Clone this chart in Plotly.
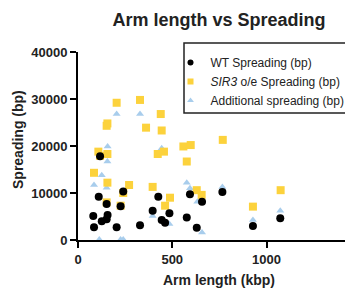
import plotly.graph_objects as go

# Data (arm length in kbp, spreading in bp)
wt_x = [117, 110, 152, 240, 226, 81, 157, 152, 126, 85, 205, 329, 426, 396, 444,
        462, 485, 577, 594, 630, 658, 766, 928, 1073]
wt_y = [17800, 9200, 7650, 10300, 7170, 5100, 5300, 4400, 3980, 2700, 2700, 3120,
        9200, 6240, 4260, 3690, 5670, 4800, 9720, 2600, 8150, 10200, 2980, 4610]

sir3_x = [205, 329, 439, 156, 152, 361, 444, 108, 156, 117, 423, 456, 559, 598, 577,
          85, 156, 271, 396, 488, 462, 240, 152, 226, 630, 656, 768, 928, 1075]
sir3_y = [29200, 29800, 26800, 24800, 24300, 23900, 23300, 18800, 18300, 17900, 18300,
          18800, 19900, 20200, 16700, 14300, 12200, 11700, 11300, 9000, 7300, 10000,
          8000, 7300, 10600, 9600, 21300, 7100, 10600]

add_x = [205, 329, 444, 157, 156, 126, 85, 152, 577, 594, 633, 766, 658, 928, 1073,
         113, 226, 240, 396, 485]
add_y = [26800, 26800, 19500, 19900, 16700, 13800, 11700, 11100, 12200, 11000, 8150,
         11300, 1600, 4260, 6240, 100, 100, 100, 5100, 3400]

x_ticks = [0, 500, 1000]
y_ticks = [0, 10000, 20000, 30000, 40000]

BLACK = "#000000"
YELLOW = "#FCD23C"
BLUE = "#A8CDEC"
FONT = "Liberation Sans, Arial, sans-serif"

fig = go.Figure()
# data traces (draw order: blue, yellow, black on top)
fig.add_trace(go.Scatter(x=add_x, y=add_y, mode="markers", showlegend=False, cliponaxis=False,
                         marker=dict(symbol="triangle-up", size=7, color=BLUE)))
fig.add_trace(go.Scatter(x=sir3_x, y=sir3_y, mode="markers", showlegend=False, cliponaxis=False,
                         marker=dict(symbol="square", size=8, color=YELLOW)))
fig.add_trace(go.Scatter(x=wt_x, y=wt_y, mode="markers", showlegend=False, cliponaxis=False,
                         marker=dict(symbol="circle", size=8, color=BLACK)))
# legend entries
fig.add_trace(go.Scatter(x=[None], y=[None], mode="markers", name="WT Spreading (bp)",
                         marker=dict(symbol="circle", size=6, color=BLACK)))
fig.add_trace(go.Scatter(x=[None], y=[None], mode="markers", name="<i>SIR3</i> o/e Spreading (bp)",
                         marker=dict(symbol="square", size=6, color=YELLOW)))
fig.add_trace(go.Scatter(x=[None], y=[None], mode="markers", name="Additional spreading (bp)",
                         marker=dict(symbol="triangle-up", size=6, color=BLUE)))

L, T, B = 78, 52, 51
W, H = 345, 291
pw = W - L
ph = H - T - B

def px_x(p):
    return (p - L) / pw

def px_y(p):
    return (H - B - p) / ph

fig.update_layout(
    width=W, height=H,
    margin=dict(l=L, r=0, t=T, b=B, autoexpand=False),
    paper_bgcolor="white", plot_bgcolor="white",
    font=dict(family=FONT, color="#222222"),
    title=dict(text="<b>Arm length vs Spreading</b>", x=219 / W, xref="container",
               xanchor="center", y=1 - 20 / H, yref="container", yanchor="middle",
               font=dict(size=18, color="#222222", family=FONT)),
    xaxis=dict(range=[0, pw / 0.1885], tickvals=x_ticks, ticktext=[str(v) for v in x_ticks],
               showline=True, linecolor="black", linewidth=2, ticks="outside",
               ticklen=6, tickwidth=2, tickcolor="black", showgrid=False, zeroline=False,
               tickfont=dict(size=13, family=FONT, color="#222222", weight="bold")),
    yaxis=dict(range=[0, 40000], tickvals=y_ticks, ticktext=[str(v) for v in y_ticks],
               showline=True, linecolor="black", linewidth=2, ticks="outside",
               ticklen=6, tickwidth=2, tickcolor="black", showgrid=False, zeroline=False,
               tickfont=dict(size=13, family=FONT, color="#222222", weight="bold")),
    legend=dict(x=px_x(170.5), y=px_y(48), xanchor="left", yanchor="top",
                bgcolor="rgba(0,0,0,0)", borderwidth=0, tracegroupgap=0,
                font=dict(size=12, family=FONT, color="#222222")),
    shapes=[dict(type="rect", xref="paper", yref="paper",
                 x0=px_x(184), x1=px_x(360), y0=px_y(113), y1=px_y(43),
                 line=dict(color="#222222", width=1.5), fillcolor="rgba(0,0,0,0)")],
    annotations=[
        dict(text="<b>Arm length (kbp)</b>", xref="paper", yref="paper",
             x=px_x(219), y=px_y(280), xanchor="center", yanchor="middle", showarrow=False,
             font=dict(size=14, family=FONT, color="#222222")),
        dict(text="<b>Spreading (bp)</b>", xref="paper", yref="paper",
             x=px_x(18), y=px_y(140), xanchor="center", yanchor="middle", showarrow=False,
             textangle=-90, font=dict(size=14, family=FONT, color="#222222")),
    ],
)

fig.write_html("out.html", config={"displayModeBar": False},
               post_script="document.body.style.margin='0';")
